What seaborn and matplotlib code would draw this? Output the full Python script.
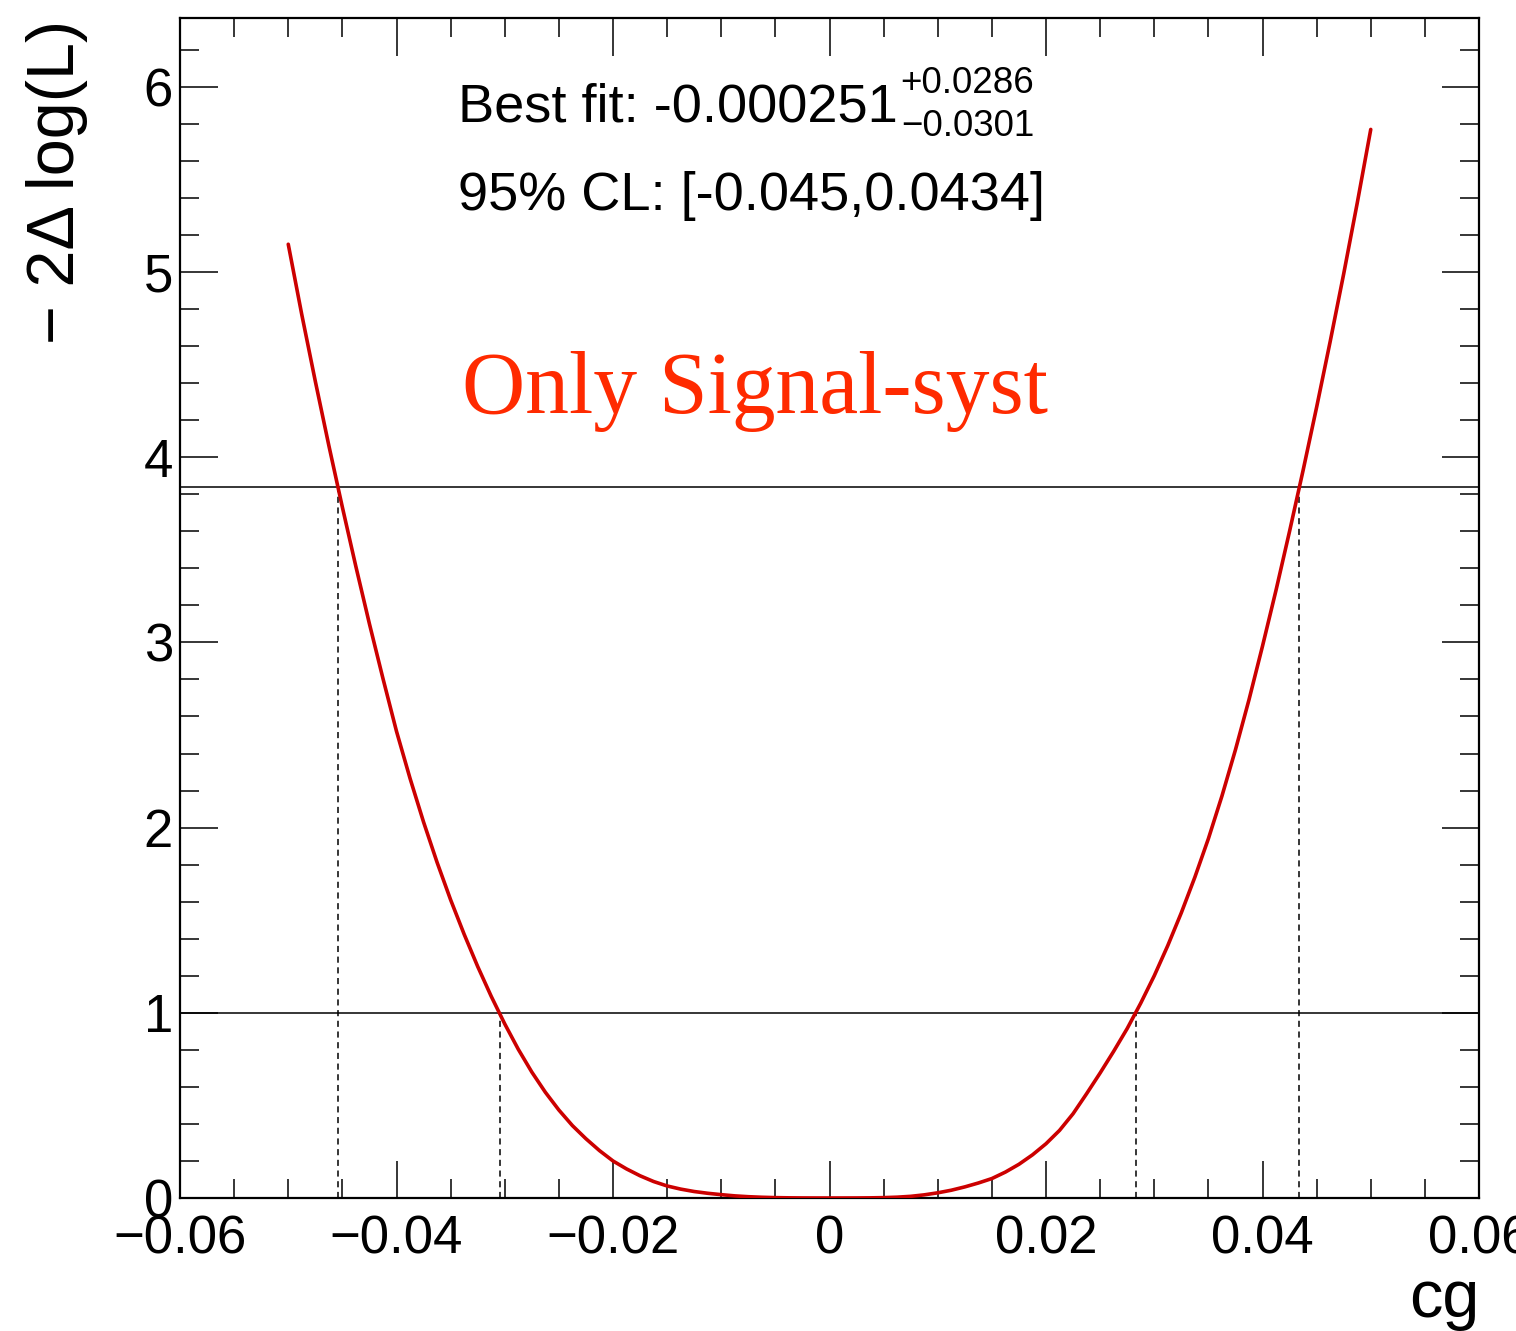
import numpy as np
import pandas as pd
import matplotlib
matplotlib.use("Agg")
import matplotlib.pyplot as plt
import seaborn as sns
from matplotlib.ticker import FixedLocator, MultipleLocator

# ---- data ----
cg_values = [-0.05000, -0.04875, -0.04750, -0.04625, -0.04500, -0.04375, -0.04250,
             -0.04125, -0.04000, -0.03875, -0.03750, -0.03625, -0.03500, -0.03375,
             -0.03250, -0.03125, -0.03000, -0.02875, -0.02750, -0.02625, -0.02500,
             -0.02375, -0.02250, -0.02125, -0.02000, -0.01875, -0.01750, -0.01625,
             -0.01500, -0.01375, -0.01250, -0.01125, -0.01000, -0.00875, -0.00750,
             -0.00625, -0.00500, -0.00375, -0.00250, -0.00125, 0.00000,
             0.00125, 0.00250, 0.00375, 0.00500, 0.00625, 0.00750, 0.00875,
             0.01000, 0.01125, 0.01250, 0.01375, 0.01500, 0.01625, 0.01750,
             0.01875, 0.02000, 0.02125, 0.02250, 0.02375, 0.02500, 0.02625,
             0.02750, 0.02875, 0.03000, 0.03125, 0.03250, 0.03375, 0.03500,
             0.03625, 0.03750, 0.03875, 0.04000, 0.04125, 0.04250, 0.04375,
             0.04500, 0.04625, 0.04750, 0.04875, 0.05000]
nll_values = [5.15, 4.77, 4.41, 4.063, 3.73, 3.409, 3.10,
              2.805, 2.52, 2.266, 2.03, 1.812, 1.61, 1.424,
              1.25, 1.089, 0.94, 0.803, 0.68, 0.571, 0.475,
              0.391, 0.32, 0.256, 0.20, 0.157, 0.12, 0.089,
              0.065, 0.048, 0.035, 0.0255, 0.018, 0.0115, 0.007,
              0.004, 0.002, 0.0009, 0.0003, 0.00005, 0.0,
              0.00003, 0.0002, 0.0008, 0.002, 0.0045, 0.009, 0.017,
              0.028, 0.042, 0.06, 0.081, 0.105, 0.140, 0.182,
              0.233, 0.293, 0.365, 0.455, 0.563, 0.675, 0.792,
              0.915, 1.052, 1.20, 1.363, 1.54, 1.732, 1.94,
              2.17, 2.42, 2.69, 2.98, 3.282, 3.60, 3.929,
              4.27, 4.624, 4.99, 5.372, 5.77]
thresholds = [1.0, 3.84]
crossings_68 = [-0.0304, 0.02835]
crossings_95 = [-0.0454, 0.0434]

x_ticks = [-0.06, -0.04, -0.02, 0.0, 0.02, 0.04, 0.06]
x_tick_labels = ["\u22120.06", "\u22120.04", "\u22120.02", "0", "0.02", "0.04", "0.06"]
y_ticks = [0, 1, 2, 3, 4, 5, 6]
y_tick_labels = ["0", "1", "2", "3", "4", "5", "6"]

best_fit_text = "Best fit: -0.000251"
err_up_text = "+0.0286"
err_down_text = "\u22120.0301"
cl_text = "95% CL: [-0.045,0.0434]"
tag_text = "Only Signal-syst"
x_label = "cg"
y_label = "\u2212 2\u0394 log(L)"

# ---- style ----
sns.set_theme(style="ticks")
plt.rcParams["font.family"] = ["Liberation Sans", "DejaVu Sans"]

W, H = 1516, 1331
fig = plt.figure(figsize=(W / 100, H / 100), dpi=100)
left, right, bottom_px, top_px = 180, 1479, 1198, 18.3
ax = fig.add_axes([left / W, 1 - bottom_px / H, (right - left) / W, (bottom_px - top_px) / H])

df = pd.DataFrame({"cg": cg_values, "nll": nll_values})
sns.lineplot(data=df, x="cg", y="nll", ax=ax, color="#cc0000", linewidth=2.6,
             estimator=None, sort=False, zorder=3)

for t in thresholds:
    ax.axhline(t, color="black", linewidth=1.1, zorder=2)
for xc in crossings_68:
    ax.plot([xc, xc], [0, thresholds[0]], color="black", linewidth=1.1,
            linestyle=(0, (4, 3)), zorder=2)
for xc in crossings_95:
    ax.plot([xc, xc], [0, thresholds[1]], color="black", linewidth=1.1,
            linestyle=(0, (4, 3)), zorder=2)

ax.set_xlim(-0.06, 0.06)
ax.set_ylim(0, 6.37)
ax.xaxis.set_major_locator(FixedLocator(x_ticks))
ax.set_xticklabels(x_tick_labels)
ax.xaxis.set_minor_locator(MultipleLocator(0.005))
ax.yaxis.set_major_locator(FixedLocator(y_ticks))
ax.set_yticklabels(y_tick_labels)
ax.yaxis.set_minor_locator(MultipleLocator(0.2))
ax.tick_params(which="both", direction="in", top=True, right=True,
               color="black", width=1.1, labelsize=38, labelcolor="black")
ax.tick_params(which="major", length=27)
ax.tick_params(which="minor", length=13.5)
ax.tick_params(axis="x", which="major", pad=12)
ax.tick_params(axis="y", which="major", pad=5)
for s in ax.spines.values():
    s.set_visible(True)
    s.set_color("black")
    s.set_linewidth(1.6)
ax.set_xlabel("")
ax.set_ylabel("")
ax.grid(False)

fig.text(57 / W, 1 - 20 / H, y_label, rotation=90, ha="center", va="top",
         fontsize=48, color="black")
fig.text(right / W, 1 - 1317 / H, x_label, ha="right", va="baseline",
         fontsize=48, color="black")

t1 = fig.text(458 / W, 1 - 121 / H, best_fit_text, ha="left", va="baseline",
              fontsize=39, color="black")
fig.text(458 / W, 1 - 210 / H, cl_text, ha="left", va="baseline",
         fontsize=39, color="black")
fig.canvas.draw()
bb = t1.get_window_extent(renderer=fig.canvas.get_renderer())
xs = (bb.x1 + 3) / W
fig.text(xs, 1 - 93 / H, err_up_text, ha="left", va="baseline", fontsize=26.5, color="black")
fig.text(xs, 1 - 136 / H, err_down_text, ha="left", va="baseline", fontsize=26.5, color="black")

fig.text(462 / W, 1 - 413 / H, tag_text, ha="left", va="baseline", fontsize=63,
         color="#ff2a00", family=["Liberation Serif", "DejaVu Serif"])

fig.savefig("out.png", dpi=100, facecolor="white")
